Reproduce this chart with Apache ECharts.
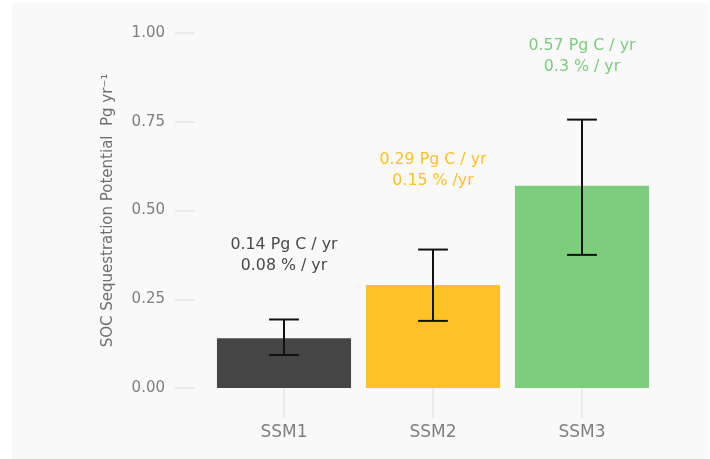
<!DOCTYPE html>
<html>
<head>
<meta charset="utf-8">
<script src="https://cdn.jsdelivr.net/npm/echarts@6/dist/echarts.min.js"></script>
<style>
  html, body { margin: 0; padding: 0; background: #ffffff; width: 710px; height: 459px; overflow: hidden; }
  #chart { position: absolute; left: 12px; top: 3px; width: 697px; height: 456px; }
</style>
</head>
<body>
<div id="chart"></div>
<script>
// Soil organic carbon sequestration potential by scenario
const categories = ['SSM1', 'SSM2', 'SSM3'];
const potential = [0.14, 0.29, 0.57];          // Pg C / yr
const errLow = [0.093, 0.189, 0.375];
const errHigh = [0.193, 0.390, 0.756];
const noteLines1 = ['0.14 Pg C / yr', '0.29 Pg C / yr', '0.57 Pg C / yr'];
const noteLines2 = ['0.08 % / yr', '0.15 % /yr', '0.3 % / yr'];
const noteY = [0.373, 0.613, 0.935];
const barColors = ['#454545', '#FFC125', '#7CCD7C'];
const noteColors = ['#4a4a4a', '#FFC125', '#7CCD7C'];

const FONT = 'DejaVu Sans';
const chart = echarts.init(document.getElementById('chart'));

chart.setOption({
  backgroundColor: '#f9f9f9',
  animation: false,
  grid: { left: 197.5, top: 30, width: 447, height: 355 },
  xAxis: {
    type: 'category',
    data: categories,
    axisLine: { show: false },
    axisTick: { show: true, alignWithLabel: true, length: 30, lineStyle: { color: '#e6e6e6', width: 1.5 } },
    axisLabel: { margin: 36, fontFamily: FONT, fontSize: 17, color: '#7f7f7f' },
    splitLine: { show: false }
  },
  yAxis: {
    type: 'value',
    min: 0,
    max: 1,
    interval: 0.25,
    offset: 14.5,
    name: 'SOC Sequestration Potential  Pg yr\u207B\u00B9',
    nameLocation: 'middle',
    nameGap: 79,
    nameTextStyle: { fontFamily: FONT, fontSize: 15, color: '#6e6e6e' },
    axisLine: { show: false },
    axisTick: { show: true, length: 20, lineStyle: { color: '#e6e6e6', width: 1.5 } },
    axisLabel: {
      margin: 30, fontFamily: FONT, fontSize: 15, color: '#7f7f7f',
      formatter: v => v.toFixed(2)
    },
    splitLine: { show: false }
  },
  series: [
    {
      type: 'bar',
      barWidth: '90%',
      data: potential.map((v, i) => ({ value: v, itemStyle: { color: barColors[i] } })),
      z: 2
    },
    {
      // error bars with caps (cap width = 0.2 of a category band)
      type: 'custom',
      z: 3,
      data: categories.map((c, i) => [i, errLow[i], errHigh[i]]),
      renderItem: (params, api) => {
        const x = api.value(0);
        const lo = api.coord([x, api.value(1)]);
        const hi = api.coord([x, api.value(2)]);
        const band = api.size([1, 0])[0];
        const half = band * 0.1;
        const style = { stroke: '#111111', lineWidth: 2 };
        return {
          type: 'group',
          children: [
            { type: 'line', shape: { x1: lo[0], y1: lo[1], x2: hi[0], y2: hi[1] }, style },
            { type: 'line', shape: { x1: hi[0] - half, y1: hi[1], x2: hi[0] + half, y2: hi[1] }, style },
            { type: 'line', shape: { x1: lo[0] - half, y1: lo[1], x2: lo[0] + half, y2: lo[1] }, style }
          ]
        };
      }
    },
    {
      // two-line value notes above each bar
      type: 'custom',
      z: 4,
      data: categories.map((c, i) => [i, noteY[i]]),
      renderItem: (params, api) => {
        const i = params.dataIndex;
        const p = api.coord([api.value(0), api.value(1)]);
        return {
          type: 'text',
          x: p[0],
          y: p[1],
          style: {
            text: noteLines1[i] + '\n' + noteLines2[i],
            fill: noteColors[i],
            font: '15.8px "' + FONT + '"',
            lineHeight: 21,
            align: 'center',
            verticalAlign: 'middle'
          }
        };
      }
    }
  ]
});
</script>
</body>
</html>
